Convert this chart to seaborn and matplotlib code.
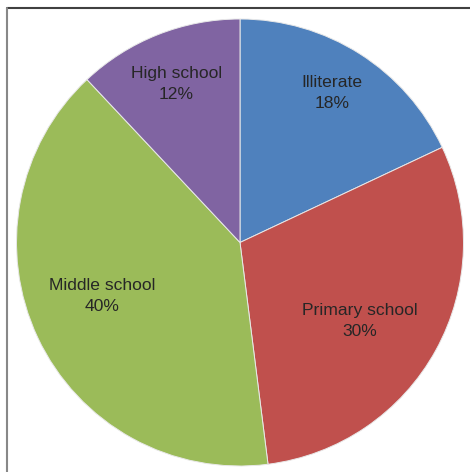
import seaborn as sns
import matplotlib.pyplot as plt
from matplotlib.lines import Line2D

# data
categories = ["Illiterate", "Primary school", "Middle school", "High school"]
shares = [18, 30, 40, 12]
colors = ["#4F81BD", "#C0504D", "#9BBB59", "#8064A2"]

# label spots as fraction of radius (excel places them off the mid angle)
label_xy = [(0.412, 0.669), (0.537, -0.351), (-0.615, -0.239), (-0.284, 0.709)]

sns.set_style("white")
plt.rcParams['font.family'] = ['Liberation Sans', 'DejaVu Sans']

fig = plt.figure(figsize=(4.7, 4.72), dpi=100)
ax = fig.add_axes([16.5/470, 6/472, 447/470, 447/472])

ax.pie(shares, colors=colors, startangle=90, counterclock=False, radius=1,
       wedgeprops=dict(edgecolor="#e8e8e8", linewidth=0.7))

for name, val, (x, y) in zip(categories, shares, label_xy):
	ax.text(x, y, name + "\n" + str(val) + "%", ha="center", va="center",
		fontsize=12.6, color="#262626", linespacing=1.5)

ax.set_xlim(-1, 1)
ax.set_ylim(-1, 1)
ax.set_aspect("equal")
ax.axis("off")

# chart frame, only top and left are visible in the crop
fig.add_artist(Line2D([6.5/470, 1], [1 - 8/472, 1 - 8/472], transform=fig.transFigure, color="#404040", lw=1.5))
fig.add_artist(Line2D([6.5/470, 6.5/470], [0, 1 - 8/472], transform=fig.transFigure, color="#888888", lw=1.5))

plt.savefig("out.png", dpi=100)
